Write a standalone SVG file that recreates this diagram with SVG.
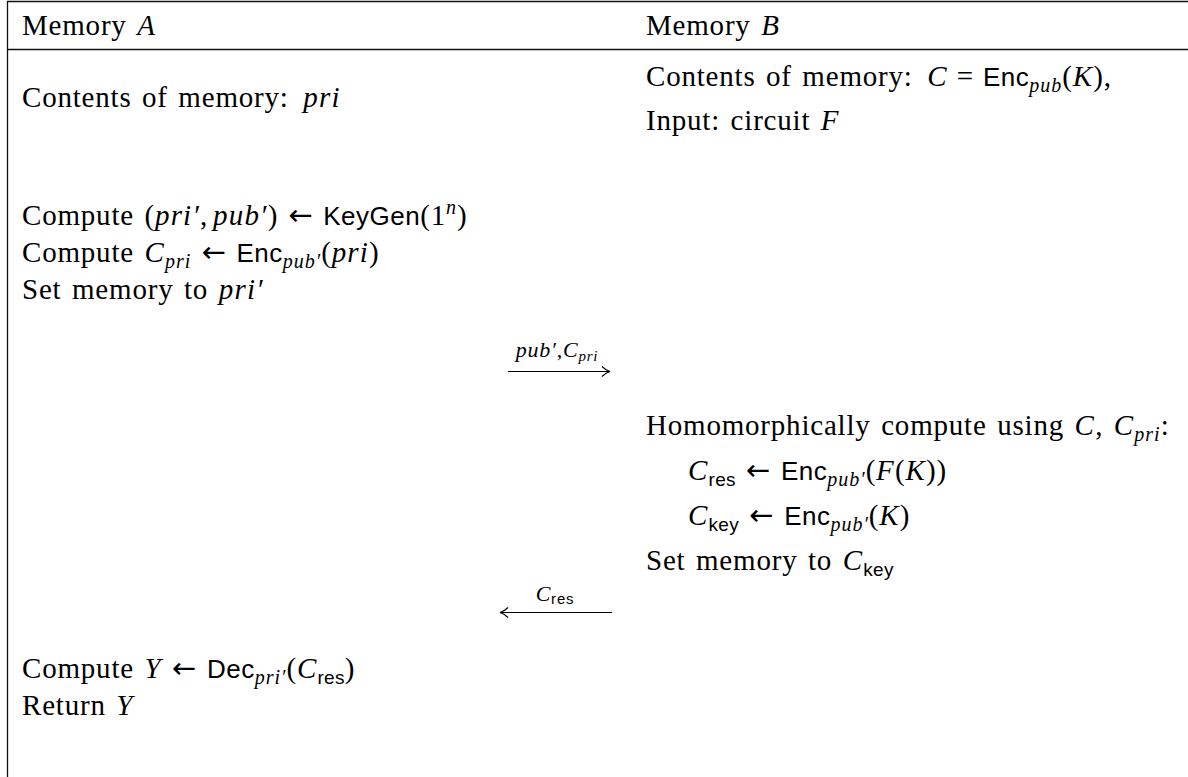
<svg xmlns="http://www.w3.org/2000/svg" width="1188" height="777" viewBox="0 0 1188 777">
<defs>
<style>
text{font-family:"Liberation Serif","DejaVu Serif",serif;font-size:29px;fill:#000;letter-spacing:0.8px;word-spacing:2.5px;}
.it{font-style:italic;letter-spacing:1.2px;}
.sf{font-family:"Liberation Sans","DejaVu Sans",sans-serif;font-size:26px;letter-spacing:0.5px;}
.s{font-style:italic;font-size:20px;letter-spacing:1px;}
.ss{font-family:"Liberation Sans","DejaVu Sans",sans-serif;font-size:19px;letter-spacing:0.3px;}
.ar{font-family:"DejaVu Sans",sans-serif;font-size:29px;}
.lbl{font-size:22px;font-style:italic;letter-spacing:0.8px;}
.lsub{font-size:15px;}
.lsubsf{font-family:"Liberation Sans","DejaVu Sans",sans-serif;font-size:15px;font-style:normal;}
.rule{stroke:#111;stroke-width:1.3;fill:none;}
.edge{stroke:#000;stroke-width:1.2;fill:none;}
</style>
<marker id="head" viewBox="0 0 10 12" refX="9" refY="6" markerWidth="10" markerHeight="12" markerUnits="userSpaceOnUse" orient="auto">
<path d="M1,1 Q5,5 9,6 Q5,7 1,11" fill="none" stroke="#000" stroke-width="1.1"/>
</marker>
</defs>
<rect width="1188" height="777" fill="#fff"/>
<g id="frame">
<line class="rule" x1="7" y1="1.5" x2="1188" y2="1.5"/>
<line class="rule" x1="7" y1="49.5" x2="1188" y2="49.5"/>
<line class="rule" x1="7.5" y1="1" x2="7.5" y2="777"/>
</g>
<g id="headerA"><text x="22" y="35">Memory <tspan class="it">A</tspan></text></g>
<g id="headerB"><text x="646" y="35">Memory <tspan class="it">B</tspan></text></g>
<g id="partyA-init"><text x="22" y="107">Contents of memory: <tspan class="it" dx="4">pri</tspan></text></g>
<g id="partyB-init">
<text x="646" y="86">Contents of memory: <tspan class="it" dx="4">C</tspan><tspan dx="9">=</tspan><tspan class="sf" dx="9">Enc</tspan><tspan class="s" dy="6">pub</tspan><tspan dy="-6">(</tspan><tspan class="it">K</tspan>),</text>
<text x="646" y="130">Input: circuit <tspan class="it">F</tspan></text>
</g>
<g id="partyA-step1">
<text x="22" y="225">Compute (<tspan class="it">pri′</tspan>,<tspan class="it" dx="5">pub′</tspan>)<tspan class="ar" dx="10">←</tspan><tspan class="sf" dx="10">KeyGen</tspan>(1<tspan class="s" dy="-11">n</tspan><tspan dy="11">)</tspan></text>
<text x="22" y="262">Compute <tspan class="it">C</tspan><tspan class="s" dy="6">pri</tspan><tspan class="ar" dy="-6" dx="10">←</tspan><tspan class="sf" dx="10">Enc</tspan><tspan class="s" dy="6">pub′</tspan><tspan dy="-6">(</tspan><tspan class="it">pri</tspan>)</text>
<text x="22" y="299">Set memory to <tspan class="it">pri′</tspan></text>
</g>
<g id="partyB-step">
<text x="646" y="435">Homomorphically compute using <tspan class="it">C</tspan>, <tspan class="it">C</tspan><tspan class="s" dy="6">pri</tspan><tspan dy="-6">:</tspan></text>
<text x="688" y="480"><tspan class="it">C</tspan><tspan class="ss" dy="6">res</tspan><tspan class="ar" dy="-6" dx="10">←</tspan><tspan class="sf" dx="10">Enc</tspan><tspan class="s" dy="6">pub′</tspan><tspan dy="-6">(</tspan><tspan class="it">F</tspan>(<tspan class="it">K</tspan>))</text>
<text x="688" y="525"><tspan class="it">C</tspan><tspan class="ss" dy="6">key</tspan><tspan class="ar" dy="-6" dx="10">←</tspan><tspan class="sf" dx="10">Enc</tspan><tspan class="s" dy="6">pub′</tspan><tspan dy="-6">(</tspan><tspan class="it">K</tspan>)</text>
<text x="646" y="570">Set memory to <tspan class="it">C</tspan><tspan class="ss" dy="6">key</tspan></text>
</g>
<g id="partyA-final">
<text x="22" y="678">Compute <tspan class="it">Y</tspan><tspan class="ar" dx="10">←</tspan><tspan class="sf" dx="10">Dec</tspan><tspan class="s" dy="6">pri′</tspan><tspan dy="-6">(</tspan><tspan class="it">C</tspan><tspan class="ss" dy="6">res</tspan><tspan dy="-6">)</tspan></text>
<text x="22" y="715">Return <tspan class="it">Y</tspan></text>
</g>
<g id="connectors">
<g id="msg1">
<line class="edge" x1="508" y1="371.5" x2="610" y2="371.5" marker-end="url(#head)"/>
<text class="lbl" x="557" y="357" text-anchor="middle">pub′,C<tspan class="lsub" dy="4">pri</tspan></text>
</g>
<g id="msg2">
<line class="edge" x1="612" y1="612.5" x2="500" y2="612.5" marker-end="url(#head)"/>
<text class="lbl" x="555" y="601" text-anchor="middle">C<tspan class="lsubsf" dy="3">res</tspan></text>
</g>
</g>
</svg>
